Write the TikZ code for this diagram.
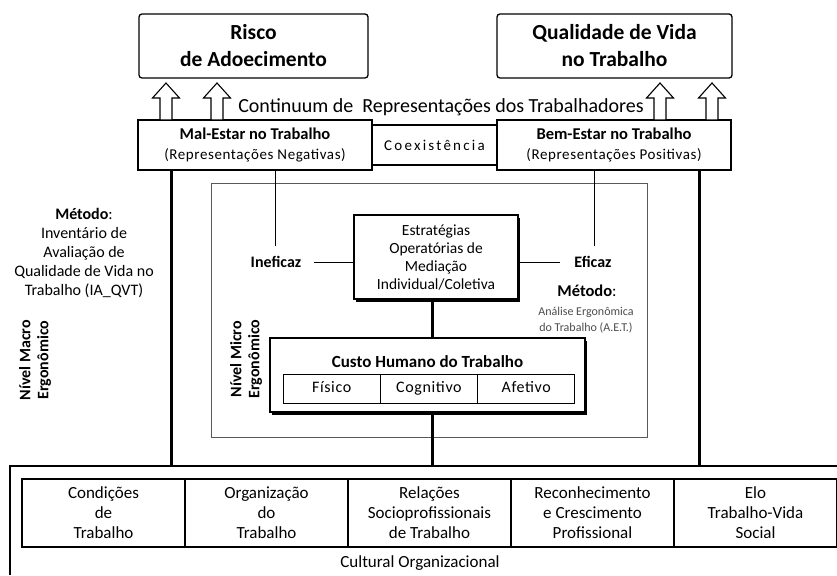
\documentclass[tikz,border=0pt]{standalone}
\usepackage{fontspec}
\setmainfont{Carlito}
\newfontfamily\spacedfont[LetterSpace=4]{Carlito}
\newfontfamily\widefont[LetterSpace=15]{Carlito}
\usetikzlibrary{positioning, shadows}
\newcommand{\fs}[2]{\fontsize{#1}{#2}\selectfont}

\begin{document}
\begin{tikzpicture}[
        x=1pt, y=-1pt,
        topbox/.style={rectangle, rounded corners=3pt, draw=black, line width=1.3pt, minimum height=64, align=center, font=\fs{21.5}{27}\bfseries},
        levelbox/.style={rectangle, draw=black, line width=1.2pt, fill=white, minimum width=234, minimum height=50, align=center, font=\fs{16.5}{20}},
        shadowbox/.style={rectangle, draw=black, line width=1.2pt, fill=white, align=center, drop shadow={shadow xshift=1.5pt, shadow yshift=-3pt, fill=black, opacity=1}},
        cell/.style={rectangle, draw=black, line width=1.1pt, outer sep=0pt, minimum width=163, minimum height=68, align=center, font=\fs{17}{20}},
        subcell/.style={rectangle, draw=black, line width=0.9pt, outer sep=0pt, minimum width=97.3, minimum height=29, text height=11pt, text depth=3pt, font=\fs{16}{18}\spacedfont},
        label/.style={inner sep=0pt, align=center, font=\fs{16}{19}},
        boldlabel/.style={label, font=\fs{16}{18}\bfseries},
        thickline/.style={line width=3pt},
        thinline/.style={line width=1pt},
        hollowarrow/.style={draw=black, fill=white, line width=1.1pt, line join=miter}
    ]
        \useasboundingbox (0,0) rectangle (837,575);

        % ===== resultados =====
        \node (risco) [topbox, minimum width=229] at (253.5,46) {Risco\\de Adoecimento};
        \node (qvt) [topbox, minimum width=235] at (614.5,46) {Qualidade de Vida\\no Trabalho};

        % ===== representacoes =====
        \node (coex) [rectangle, draw=black, line width=1.1pt, minimum width=125, minimum height=40, font=\fs{15}{18}\widefont] at (434.5,145) {Coexistência};
        \node (malestar) [levelbox] at (255,145) {\textbf{Mal-Estar no Trabalho}\\{\fs{15}{20}\spacedfont (Representações Negativas)}};
        \node (bemestar) [levelbox] at (614,145) {\textbf{Bem-Estar no Trabalho}\\{\fs{15}{20}\spacedfont (Representações Positivas)}};
        \node (continuum) [inner sep=0pt, font=\fs{20}{24}] at (441,107) {Continuum de~ Representações dos Trabalhadores};

        % setas vazadas
        \foreach \ax in {166,217,660,712}
            \draw [hollowarrow] (\ax-6,120) -- (\ax-6,98) -- (\ax-13.5,98) -- (\ax,83)
                -- (\ax+13.5,98) -- (\ax+6,98) -- (\ax+6,120) -- cycle;

        % ===== nivel micro =====
        \node (micro) [rectangle, draw=black!65, line width=0.9pt, minimum width=436, minimum height=254] at (429,310) {};
        \node (estrat) [shadowbox, minimum width=164, minimum height=84, font=\fs{15.5}{18}] at (436,257) {Estratégias\\Operatórias de\\Mediação\\Individual/Coletiva};
        \node (custo) [shadowbox, minimum width=315, minimum height=74] at (427.5,375) {};
        \node (custoTitle) [boldlabel, font=\fs{17}{20}\bfseries] at (427.5,362) {Custo Humano do Trabalho};
        \node (fisico) [subcell] at (331.65,388.5) {Físico};
        \node (cognitivo) [subcell, right=0pt of fisico] {Cognitivo};
        \node (afetivo) [subcell, right=0pt of cognitivo] {Afetivo};

        \node (ineficaz) [boldlabel] at (276,262) {Ineficaz};
        \node (eficaz) [boldlabel] at (593,262) {Eficaz};
        \node (metodoR) [boldlabel, font=\fs{16.5}{18}\bfseries] at (587,291) {Método\textmd{:}};
        \node (aet) [label, font=\fs{12}{15.5}, text=black!70] at (586,320) {Análise Ergonômica\\do Trabalho (A.E.T.)};
        \node (microLabel) [boldlabel, rotate=90] at (246,359) {Nível Micro\\Ergonômico};

        % ===== nivel macro =====
        \node (metodoL) [label] at (84,252.5) {\textbf{Método}:\\Inventário de\\Avaliação de\\Qualidade de Vida no\\Trabalho (IA\_QVT)};
        \node (macroLabel) [boldlabel, rotate=90] at (35,360) {Nível Macro\\Ergonômico};

        % ===== dimensoes =====
        \coordinate (frametop) at (10,466);
        \draw [line width=1.3pt] (837,466) -- (frametop) -- (10,575);
        \node (condicoes) [cell] at (103.5,513) {Condições\\de\\Trabalho};
        \node (organizacao) [cell, right=0pt of condicoes] {Organização\\do\\Trabalho};
        \node (relacoes) [cell, right=0pt of organizacao] {Relações\\Socioprofissionais\\de Trabalho};
        \node (reconhecimento) [cell, right=0pt of relacoes] {Reconhecimento\\e Crescimento\\Profissional};
        \node (elo) [cell, right=0pt of reconhecimento] {Elo\\Trabalho-Vida\\Social};
        \node (cultura) [label, font=\fs{17}{20}] at (420,563) {Cultural Organizacional};

        % ===== ligacoes =====
        \coordinate (macroL) at ([xshift=34pt]malestar.south west);
        \coordinate (macroR) at ([xshift=-32pt]bemestar.south east);
        \coordinate (ineLine) at ([xshift=138pt]malestar.south west);
        \coordinate (efiLine) at ([xshift=98pt]bemestar.south west);
        \coordinate (axis) at ([xshift=-4pt]estrat.south);

        \draw [thickline] (macroL) -- (macroL |- frametop);
        \draw [thickline] (macroR) -- (macroR |- frametop);
        \draw [thinline] (ineLine) -- ++(0,75);
        \draw [thinline] (efiLine) -- ++(0,75);
        \draw [thinline] ([xshift=13pt]ineficaz.east) -- (ineficaz -| estrat.west);
        \draw [thinline] (estrat.east |- eficaz) -- ([xshift=-14pt]eficaz.west);
        \draw [thickline] (axis) -- (axis |- custo.north);
        \draw [thickline] (axis |- custo.south) -- (axis |- frametop);

    \end{tikzpicture}
\end{document}
